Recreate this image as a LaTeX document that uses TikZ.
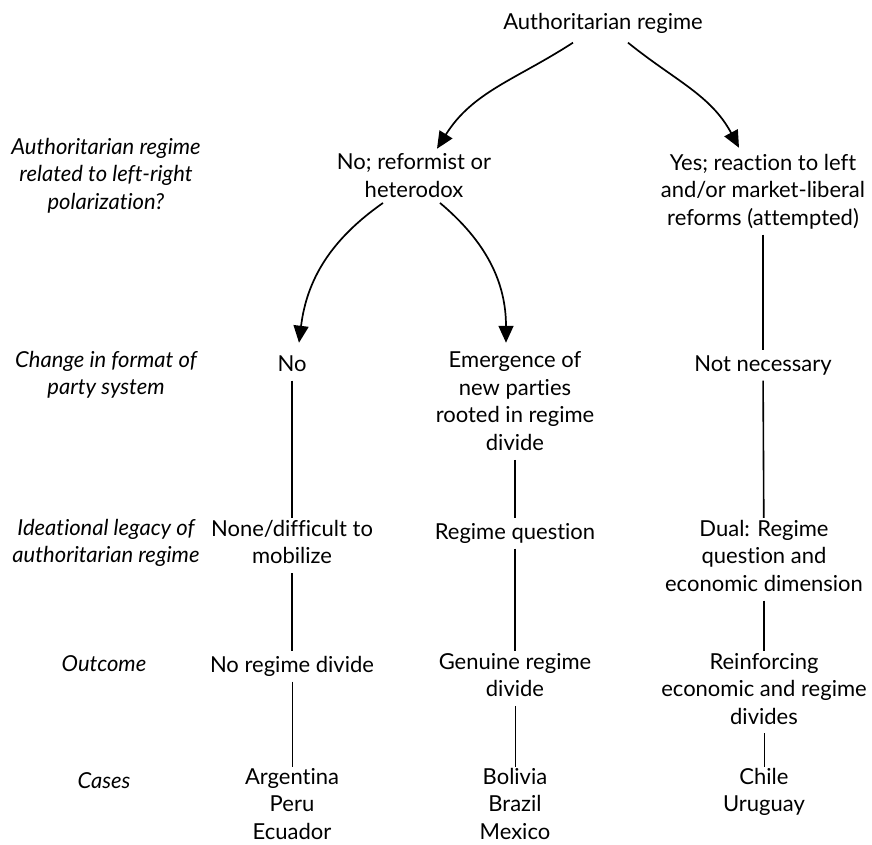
\documentclass[tikz,border=0pt]{standalone}
\usepackage{fontspec}
\setmainfont[Ligatures=NoCommon]{Lato}
\usetikzlibrary{arrows.meta,calc}
\begin{document}
\begin{tikzpicture}[x=1pt,y=-1pt]
\tikzset{
  txt/.style={font=\fontsize{22}{27.5}\selectfont, align=center, inner sep=0pt, anchor=north,
    execute at begin node=\strut, execute at end node=\strut},
  lbl/.style={txt, font=\fontsize{22}{27.5}\selectfont\itshape},
  arr/.style={line width=1.7pt, -{Triangle[length=17pt,width=15pt]}},
  conn/.style={line width=1.6pt, shorten <=1pt, shorten >=2pt},
  thinconn/.style={line width=0.8pt, shorten <=1pt, shorten >=1pt},
}
\useasboundingbox (0,0) rectangle (872,845);
% left labels
\node[lbl] (q1) at (106,137.75) {Authoritarian regime\\related to left-right\\polarization?};
\node[lbl] (q2) at (106,350.75) {Change in format of\\party system};
\node[lbl] (q3) at (106,518.75) {Ideational legacy of\\authoritarian regime};
\node[lbl] (q4) at (104,651.75) {Outcome};
\node[lbl] (q5) at (104,768.75) {Cases};
% tree
\node[txt] (top) at (603,9.75) {Authoritarian regime};
\node[txt] (nor) at (414,153.75) {No; reformist or\\heterodox};
\node[txt] (yes) at (763,153.75) {Yes; reaction to left\\and/or market-liberal\\reforms (attempted)};
\node[txt] (no) at (292,351.75) {No};
\node[txt] (emg) at (515,351.75) {Emergence of\\new parties\\rooted in regime\\divide};
\node[txt] (nn) at (763,351.75) {Not necessary};
\node[txt] (none) at (292,519.75) {None/difficult to\\mobilize};
\node[txt] (rq) at (515,519.75) {Regime question};
\node[txt] (dual) at (764,519.75) {Dual: Regime\\question and\\economic dimension};
\node[txt] (nrd) at (292,652.75) {No regime divide};
\node[txt] (grd) at (515,652.75) {Genuine regime\\divide};
\node[txt] (red) at (764,652.75) {Reinforcing\\economic and regime\\divides};
\node[txt] (c1) at (292,767.75) {Argentina\\Peru\\Ecuador};
\node[txt] (c2) at (515,767.75) {Bolivia\\Brazil\\Mexico};
\node[txt] (c3) at (764,767.75) {Chile\\Uruguay};
% arrows
\draw[arr] ([xshift=-30pt,yshift=-5pt]top.south) to[out=213,in=58] ([xshift=23pt,yshift=5pt]nor.north);
\draw[arr] ([xshift=25pt,yshift=-5pt]top.south) to[out=-39,in=118] ([xshift=-24pt,yshift=6pt]yes.north);
\draw[arr] ([xshift=-31pt,yshift=3pt]nor.south) to[out=215,in=83] ([xshift=7pt,yshift=9pt]no.north);
\draw[arr] ([xshift=26pt,yshift=3pt]nor.south) to[out=-40,in=90] ([xshift=-9pt,yshift=9pt]emg.north);
% lines
\draw[conn] (yes) -- (nn);
\draw[conn] (no) -- (none);
\draw[conn] (nn) -- (dual);
\draw[conn] (emg) -- (rq);
\draw[conn] (none) -- (nrd);
\draw[conn] (rq) -- (grd);
\draw[conn] (dual) -- (red);
\draw[thinconn] (nrd) -- (c1);
\draw[thinconn] (grd) -- (c2);
\draw[thinconn] (red) -- (c3);
\end{tikzpicture}
\end{document}
